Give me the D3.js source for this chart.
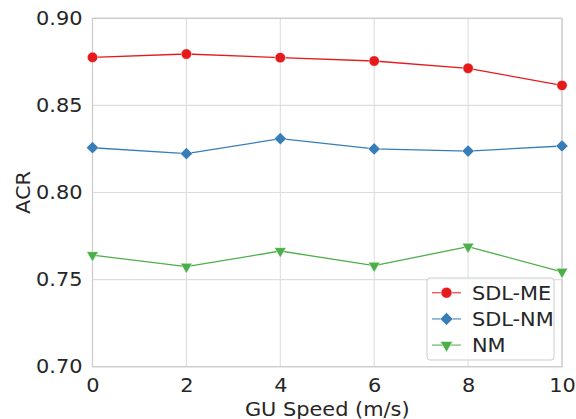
<!DOCTYPE html>
<html>
<head>
<meta charset="utf-8">
<script src="https://cdn.jsdelivr.net/npm/d3@7"></script>
<style>
  body { margin: 0; background: #fff; }
  text { font-family: "DejaVu Sans", sans-serif; fill: #262626; }
</style>
</head>
<body>
<div id="chart"></div>
<script>
const speeds = [0, 2, 4, 6, 8, 10];
const sdlMe = [0.8776, 0.8795, 0.8774, 0.8755, 0.8713, 0.8615];
const sdlNm = [0.8257, 0.8223, 0.8309, 0.8250, 0.8238, 0.8267];
const nm = [0.7641, 0.7574, 0.7664, 0.7580, 0.7689, 0.7545];
const yTicks = [0.70, 0.75, 0.80, 0.85, 0.90];
const xTicks = [0, 2, 4, 6, 8, 10];

const seriesList = [
  { name: "SDL-ME", values: sdlMe, color: "#e41a1c", symbol: d3.symbolCircle, size: 85, rot: 0 },
  { name: "SDL-NM", values: sdlNm, color: "#377eb8", symbol: d3.symbolSquare, size: 75, rot: 45 },
  { name: "NM", values: nm, color: "#4daf4a", symbol: d3.symbolTriangle, size: 60, rot: 180 }
];

const width = 576, height = 419;
const margin = { top: 18.3, right: 14, bottom: 52.3, left: 92.5 };
const innerW = width - margin.left - margin.right;
const innerH = height - margin.top - margin.bottom;
const fontSize = "19.5px";

const svg = d3.select("#chart").append("svg")
  .attr("width", width)
  .attr("height", height);

const g = svg.append("g")
  .attr("transform", `translate(${margin.left},${margin.top})`);

const x = d3.scaleLinear().domain([0, 10]).range([0, innerW]);
const y = d3.scaleLinear().domain([0.70, 0.90]).range([innerH, 0]);

// grid
g.append("g").selectAll("line").data(xTicks).enter().append("line")
  .attr("x1", d => x(d)).attr("x2", d => x(d))
  .attr("y1", 0).attr("y2", innerH)
  .attr("stroke", "#dddddd").attr("stroke-width", 1.1);
g.append("g").selectAll("line").data(yTicks).enter().append("line")
  .attr("x1", 0).attr("x2", innerW)
  .attr("y1", d => y(d)).attr("y2", d => y(d))
  .attr("stroke", "#dddddd").attr("stroke-width", 1.1);

// frame
g.append("rect")
  .attr("width", innerW).attr("height", innerH)
  .attr("fill", "none").attr("stroke", "#cccccc").attr("stroke-width", 1.25);

// axes
const xAxis = g.append("g")
  .attr("transform", `translate(0,${innerH})`)
  .call(d3.axisBottom(x).tickValues(xTicks).tickSize(0).tickPadding(10).tickFormat(d3.format("d")));
const yAxis = g.append("g")
  .call(d3.axisLeft(y).tickValues(yTicks).tickSize(0).tickPadding(10).tickFormat(d3.format(".2f")));
[xAxis, yAxis].forEach(a => {
  a.select(".domain").remove();
  a.selectAll("text").style("font-size", fontSize).attr("fill", "#262626");
});
xAxis.selectAll("text").attr("dy", "0.78em");

svg.append("text")
  .attr("x", margin.left + innerW / 2).attr("y", 416)
  .attr("text-anchor", "middle").style("font-size", fontSize)
  .text("GU Speed (m/s)");
svg.append("text")
  .attr("transform", `translate(30,${margin.top + innerH / 2}) rotate(-90)`)
  .attr("text-anchor", "middle").style("font-size", fontSize)
  .text("ACR");

// lines and markers
const line = d3.line().x((d, i) => x(speeds[i])).y(d => y(d));
seriesList.forEach(s => {
  g.append("path").datum(s.values)
    .attr("d", line)
    .attr("fill", "none").attr("stroke", s.color).attr("stroke-width", 1.3);
  g.selectAll(null).data(s.values).enter().append("path")
    .attr("d", d3.symbol().type(s.symbol).size(s.size))
    .attr("transform", (d, i) => `translate(${x(speeds[i])},${y(d)}) rotate(${s.rot})`)
    .attr("fill", s.color).attr("stroke", "#fff").attr("stroke-width", 0.5);
});

// legend
const lg = svg.append("g").attr("transform", "translate(427,278)");
lg.append("rect")
  .attr("width", 127).attr("height", 82).attr("rx", 3)
  .attr("fill", "#fff").attr("fill-opacity", 0.8)
  .attr("stroke", "#cccccc").attr("stroke-width", 1);
seriesList.forEach((s, i) => {
  const cy = 14.7 + i * 26.2;
  lg.append("line")
    .attr("x1", 5).attr("x2", 34).attr("y1", cy).attr("y2", cy)
    .attr("stroke", s.color).attr("stroke-opacity", 0.7).attr("stroke-width", 1.5);
  lg.append("path")
    .attr("d", d3.symbol().type(s.symbol).size(s.size * 1.1))
    .attr("transform", `translate(19.5,${cy}) rotate(${s.rot})`)
    .attr("fill", s.color).attr("stroke", "#fff").attr("stroke-width", 0.5);
  lg.append("text")
    .attr("x", 45).attr("y", cy).attr("dy", "0.36em")
    .style("font-size", fontSize)
    .text(s.name);
});

// the reference text is a little wider than it is tall, stretch it
svg.selectAll("text").each(function() {
  const len = this.getComputedTextLength();
  d3.select(this).attr("textLength", len * 1.07).attr("lengthAdjust", "spacingAndGlyphs");
});
</script>
</body>
</html>
